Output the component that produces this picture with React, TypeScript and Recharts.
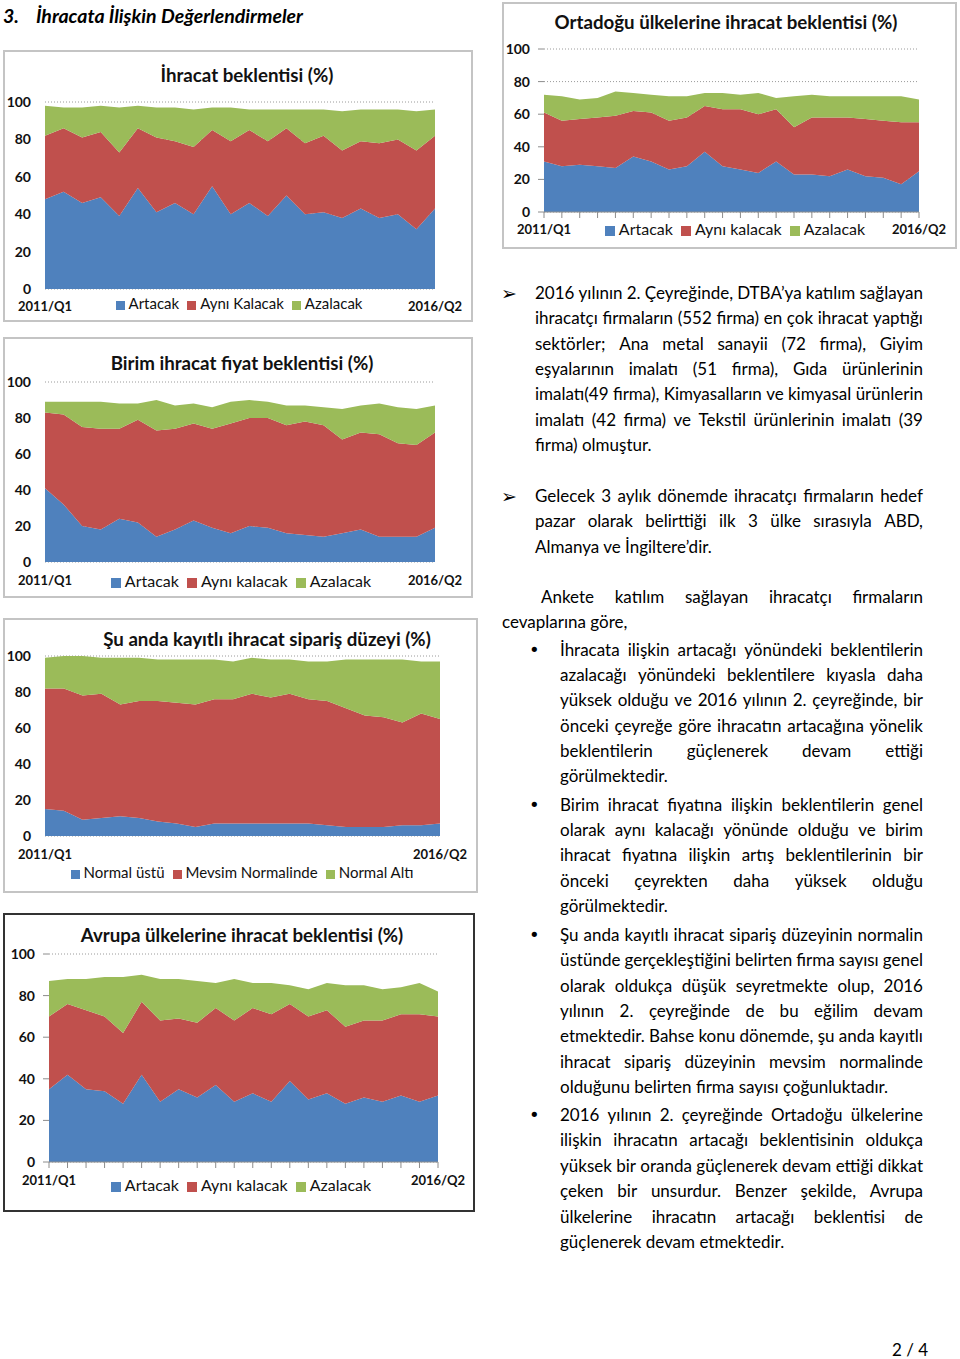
import React from 'react';
import { AreaChart, Area, XAxis, YAxis, CartesianGrid, Legend } from 'recharts';

const FONT = 'Lato, "Open Sans", sans-serif';
const BLUE = '#4f81bd';
const RED = '#c0504d';
const GREEN = '#9bbb59';

const quarters = [
  '2011/Q1', '2011/Q2', '2011/Q3', '2011/Q4',
  '2012/Q1', '2012/Q2', '2012/Q3', '2012/Q4',
  '2013/Q1', '2013/Q2', '2013/Q3', '2013/Q4',
  '2014/Q1', '2014/Q2', '2014/Q3', '2014/Q4',
  '2015/Q1', '2015/Q2', '2015/Q3', '2015/Q4',
  '2016/Q1', '2016/Q2',
];
const yTicks = [0, 20, 40, 60, 80, 100];

// İhracat beklentisi
const exportUp = [48, 52, 46, 49, 39, 54, 41, 46, 40, 55, 40, 46, 39, 50, 40, 41, 38, 43, 38, 40, 32, 43];
const exportSame = [34, 34, 35, 35, 34, 32, 40, 33, 36, 30, 39, 39, 40, 36, 38, 41, 36, 36, 40, 40, 42, 39];
const exportDown = [16, 11, 16, 14, 24, 12, 16, 18, 20, 12, 18, 11, 17, 10, 18, 14, 21, 17, 18, 16, 21, 14];

// Ortadoğu
const meUp = [31, 28, 29, 28, 27, 34, 31, 26, 28, 37, 28, 26, 24, 31, 23, 23, 22, 26, 22, 21, 17, 25];
const meSame = [30, 28, 28, 30, 32, 28, 30, 30, 30, 28, 35, 37, 36, 32, 29, 35, 36, 32, 35, 35, 38, 30];
const meDown = [11, 15, 12, 12, 15, 11, 11, 15, 13, 8, 10, 9, 13, 7, 19, 14, 13, 13, 14, 15, 16, 14];

// Birim ihracat fiyat
const priceUp = [41, 32, 20, 18, 24, 22, 14, 18, 23, 19, 16, 20, 19, 16, 15, 14, 16, 18, 14, 14, 14, 19];
const priceSame = [42, 50, 55, 56, 50, 57, 59, 56, 54, 55, 61, 60, 61, 60, 63, 62, 52, 54, 57, 52, 51, 53];
const priceDown = [6, 7, 14, 15, 14, 9, 17, 13, 11, 12, 12, 10, 9, 11, 9, 10, 17, 15, 17, 20, 20, 15];

// Sipariş düzeyi
const orderAbove = [15, 14, 9, 10, 11, 10, 8, 7, 5, 7, 7, 7, 7, 7, 7, 6, 5, 5, 5, 6, 6, 7];
const orderNormal = [67, 68, 69, 69, 62, 65, 67, 67, 68, 69, 69, 72, 70, 72, 69, 69, 66, 62, 61, 57, 62, 58];
const orderBelow = [17, 18, 22, 20, 26, 24, 23, 24, 25, 22, 21, 20, 21, 19, 21, 22, 27, 31, 32, 35, 29, 32];

// Avrupa
const euUp = [35, 42, 35, 34, 28, 42, 29, 35, 31, 37, 29, 33, 29, 39, 30, 33, 28, 31, 29, 32, 29, 32];
const euSame = [35, 34, 38, 36, 34, 35, 39, 34, 36, 37, 39, 41, 42, 37, 40, 40, 37, 37, 39, 39, 42, 38];
const euDown = [17, 12, 15, 19, 27, 13, 20, 19, 20, 12, 20, 12, 15, 9, 13, 13, 20, 17, 15, 13, 15, 12];

const toRows = (a: number[], b: number[], c: number[]) =>
  quarters.map((q, i) => ({ q, a: a[i], b: b[i], c: c[i] }));

type ChartProps = {
  rows: any[];
  names: [string, string, string];
  title: string;
  box: [number, number, number, number]; // left, top, right, bottom
  plot: [number, number, number, number];
  titleX: number;
  titleY: number;
  legendX: number;
  legendY: number;
  legendW: number;
  legendFont?: number;
  xLabelMargin: number;
  ticksOn?: boolean;
  border?: string;
};

function StackChart(p: ChartProps) {
  const [bl, bt, br, bb] = p.box;
  const [pl, pt, pr, pb] = p.plot;
  const w = br - bl;
  const h = bb - bt;
  const xH = 30;
  const first = quarters[0];
  const last = quarters[quarters.length - 1];

  const xTick = (t: any) => {
    const v = t.payload && t.payload.value;
    if (v !== first && v !== last) return <g />;
    return (
      <text x={t.x} y={t.y} dy="0.71em" textAnchor="middle" fontSize={13}
        fontWeight={700} fill="#111" fontFamily={FONT}>{v}</text>
    );
  };

  return (
    <>
      <div style={{
        position: 'absolute', left: bl, top: bt, width: w, height: h,
        boxSizing: 'border-box', border: p.border || '2px solid #c4c4c4',
      }} />
      <div style={{
        position: 'absolute', left: p.titleX - 250, top: p.titleY - 12, width: 500,
        textAlign: 'center', fontFamily: FONT, fontWeight: 700, fontSize: 18.7,
        lineHeight: '24px', color: '#111',
      }}>{p.title}</div>
      <div style={{ position: 'absolute', left: bl, top: bt }}>
        <AreaChart width={w} height={h} data={p.rows}
          margin={{ top: pt - bt, right: br - pr, bottom: bb - pb - xH, left: 0 }}>
          <CartesianGrid vertical={false} stroke="#9a9a9a" strokeDasharray="1 2" />
          <XAxis dataKey="q" interval={0} height={xH} tick={xTick}
            tickLine={p.ticksOn ? { stroke: '#8c8c8c' } : false}
            axisLine={p.ticksOn ? { stroke: '#8c8c8c' } : false}
            tickSize={6} tickMargin={p.xLabelMargin} />
          <YAxis type="number" domain={[0, 100]} ticks={yTicks} width={pl - bl}
            tickLine={p.ticksOn ? { stroke: '#8c8c8c' } : false} axisLine={false}
            tickSize={6} tickMargin={8}
            tick={{ fontSize: 14, fontWeight: 700, fill: '#111', fontFamily: FONT }} />
          <Legend verticalAlign="middle" align="center" iconType="square"
            iconSize={p.legendFont && p.legendFont > 15 ? 10 : 9}
            itemSorter="dataKey"
            wrapperStyle={{
              left: p.legendX - bl - p.legendW / 2, top: p.legendY - bt - 10,
              width: p.legendW, fontFamily: FONT, fontSize: p.legendFont || 15, lineHeight: '20px',
            }}
            formatter={(v: any) => <span style={{ color: '#111' }}>{v}</span>} />
          <Area type="linear" dataKey="a" name={p.names[0]} stackId="s" fill={BLUE}
            fillOpacity={1} stroke="none" isAnimationActive={false} />
          <Area type="linear" dataKey="b" name={p.names[1]} stackId="s" fill={RED}
            fillOpacity={1} stroke="none" isAnimationActive={false} />
          <Area type="linear" dataKey="c" name={p.names[2]} stackId="s" fill={GREEN}
            fillOpacity={1} stroke="none" isAnimationActive={false} />
        </AreaChart>
      </div>
    </>
  );
}

const TEXT_W = 388;

function JLine({ text, x, y, width, last }: { text: string; x: number; y: number; width: number; last?: boolean }) {
  const style: React.CSSProperties = {
    position: 'absolute', left: x, top: y - 12, width, height: 22,
    fontFamily: FONT, fontSize: 17, lineHeight: '22px', color: '#000', whiteSpace: 'nowrap',
  };
  if (last) return <div style={style}>{text}</div>;
  const words = text.split(' ');
  return (
    <div style={{ ...style, display: 'flex', justifyContent: 'space-between' }}>
      {words.map((wd, i) => <span key={i}>{wd}</span>)}
    </div>
  );
}

function Para({ lines, x, y0, width, pitch = 25.3 }: { lines: string[]; x: number; y0: number; width: number; pitch?: number }) {
  return (
    <>
      {lines.map((l, i) => (
        <JLine key={i} text={l} x={x} y={y0 + i * pitch} width={width} last={i === lines.length - 1} />
      ))}
    </>
  );
}

const p1 = [
  '2016 yılının 2. Çeyreğinde, DTBA’ya katılım sağlayan',
  'ihracatçı firmaların (552 firma) en çok ihracat yaptığı',
  'sektörler; Ana metal sanayii (72 firma), Giyim',
  'eşyalarının imalatı (51 firma), Gıda ürünlerinin',
  'imalatı(49 firma), Kimyasalların ve kimyasal ürünlerin',
  'imalatı (42 firma) ve Tekstil ürünlerinin imalatı (39',
  'firma) olmuştur.',
];
const p2 = [
  'Gelecek 3 aylık dönemde ihracatçı firmaların hedef',
  'pazar olarak belirttiği ilk 3 ülke sırasıyla ABD,',
  'Almanya ve İngiltere’dir.',
];
const b1 = [
  'İhracata ilişkin artacağı yönündeki beklentilerin',
  'azalacağı yönündeki beklentilere kıyasla daha',
  'yüksek olduğu ve 2016 yılının 2. çeyreğinde, bir',
  'önceki çeyreğe göre ihracatın artacağına yönelik',
  'beklentilerin güçlenerek devam ettiği',
  'görülmektedir.',
];
const b2 = [
  'Birim ihracat fiyatına ilişkin beklentilerin genel',
  'olarak aynı kalacağı yönünde olduğu ve birim',
  'ihracat fiyatına ilişkin artış beklentilerinin bir',
  'önceki çeyrekten daha yüksek olduğu',
  'görülmektedir.',
];
const b3 = [
  'Şu anda kayıtlı ihracat sipariş düzeyinin normalin',
  'üstünde gerçekleştiğini belirten firma sayısı genel',
  'olarak oldukça düşük seyretmekte olup, 2016',
  'yılının 2. çeyreğinde de bu eğilim devam',
  'etmektedir. Bahse konu dönemde, şu anda kayıtlı',
  'ihracat sipariş düzeyinin mevsim normalinde',
  'olduğunu belirten firma sayısı çoğunluktadır.',
];
const b4 = [
  '2016 yılının 2. çeyreğinde Ortadoğu ülkelerine',
  'ilişkin ihracatın artacağı beklentisinin oldukça',
  'yüksek bir oranda güçlenerek devam ettiği dikkat',
  'çeken bir unsurdur. Benzer şekilde, Avrupa',
  'ülkelerine ihracatın artacağı beklentisi de',
  'güçlenerek devam etmektedir.',
];

const Mark = ({ ch, x, y, size = 16, bold }: { ch: string; x: number; y: number; size?: number; bold?: boolean }) => (
  <div style={{
    position: 'absolute', left: x, top: y - 12, fontSize: size, lineHeight: '22px',
    fontFamily: '"DejaVu Sans", sans-serif', color: '#000', fontWeight: bold ? 700 : 400,
  }}>{ch}</div>
);

export default function App() {
  const names1: [string, string, string] = ['Artacak', 'Aynı Kalacak', 'Azalacak'];
  const names2: [string, string, string] = ['Artacak', 'Aynı kalacak', 'Azalacak'];
  const names4: [string, string, string] = ['Normal üstü', 'Mevsim Normalinde', 'Normal Altı'];

  return (
    <div style={{ position: 'absolute', left: 0, top: 0, width: 960, height: 1359, background: '#fff', overflow: 'hidden' }}>
      <style>{'.recharts-legend-item{margin-right:8px !important}'}</style>
      <div style={{
        position: 'absolute', left: 3, top: 4, fontFamily: FONT, fontSize: 19.5,
        fontWeight: 700, fontStyle: 'italic', lineHeight: '24px', color: '#000',
      }}>3.</div>
      <div style={{
        position: 'absolute', left: 36, top: 4, fontFamily: FONT, fontSize: 19.5,
        fontWeight: 700, fontStyle: 'italic', lineHeight: '24px', color: '#000',
      }}>İhracata İlişkin Değerlendirmeler</div>

      <StackChart rows={toRows(exportUp, exportSame, exportDown)} names={names1}
        title="İhracat beklentisi (%)" box={[3, 50, 473, 322]} plot={[45, 102, 435, 289]}
        titleX={247} titleY={75} legendX={243} legendY={303} legendW={280} xLabelMargin={7} />

      <StackChart rows={toRows(meUp, meSame, meDown)} names={names2}
        title="Ortadoğu ülkelerine ihracat beklentisi (%)" box={[502, 2, 957, 249]} plot={[544, 49, 919, 212]}
        titleX={726} titleY={22} legendX={739} legendY={229} legendW={320} legendFont={16}
        xLabelMargin={7} ticksOn />

      <StackChart rows={toRows(priceUp, priceSame, priceDown)} names={names2}
        title="Birim ihracat fiyat beklentisi (%)" box={[3, 337, 473, 598]} plot={[45, 382, 435, 562]}
        titleX={242} titleY={363} legendX={245} legendY={581} legendW={320} legendFont={16}
        xLabelMargin={8} />

      <StackChart rows={toRows(orderAbove, orderNormal, orderBelow)} names={names4}
        title="Şu anda kayıtlı ihracat sipariş düzeyi (%)" box={[3, 618, 478, 893]} plot={[45, 656, 440, 836]}
        titleX={267} titleY={639} legendX={246} legendY={872} legendW={380} xLabelMargin={8} />

      <StackChart rows={toRows(euUp, euSame, euDown)} names={names2}
        title="Avrupa ülkelerine ihracat beklentisi (%)" box={[3, 913, 475, 1212]} plot={[49, 954, 438, 1162]}
        titleX={242} titleY={935} legendX={245} legendY={1185} legendW={320} legendFont={16}
        xLabelMargin={8} ticksOn border="2px solid #333" />

      <Mark ch="➢" x={501} y={294} size={19} />
      <Para lines={p1} x={535} y0={294} width={TEXT_W} />
      <Mark ch="➢" x={501} y={497} size={19} />
      <Para lines={p2} x={535} y0={497} width={TEXT_W} />

      <JLine text="Ankete katılım sağlayan ihracatçı firmaların" x={541} y={598} width={382} />
      <JLine text="cevaplarına göre," x={502} y={623} width={420} last />

      <Mark ch="•" x={529} y={651} size={18} />
      <Para lines={b1} x={560} y0={651} width={363} pitch={25.2} />
      <Mark ch="•" x={529} y={806} size={18} />
      <Para lines={b2} x={560} y0={806} width={363} pitch={25.2} />
      <Mark ch="•" x={529} y={936} size={18} />
      <Para lines={b3} x={560} y0={936} width={363} pitch={25.3} />
      <Mark ch="•" x={529} y={1116} size={18} />
      <Para lines={b4} x={560} y0={1116} width={363} pitch={25.4} />

      <div style={{
        position: 'absolute', left: 892, top: 1339, fontFamily: FONT, fontSize: 17,
        lineHeight: '22px', color: '#000',
      }}>2 / 4</div>
    </div>
  );
}
